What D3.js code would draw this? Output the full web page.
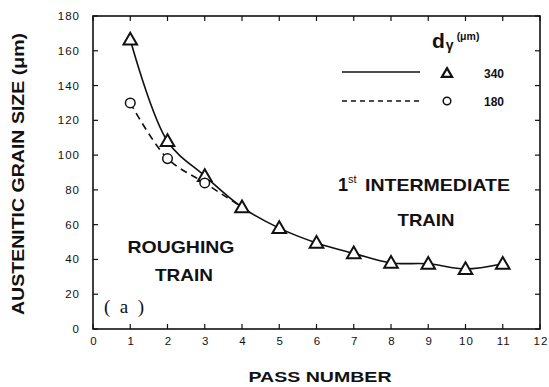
<!DOCTYPE html>
<html lang="en">
<head>
<meta charset="utf-8">
<title>Austenitic grain size</title>
<script src="https://cdn.jsdelivr.net/npm/d3@7"></script>
<style>
  body { margin: 0; background: #fff; }
  text { font-family: "Liberation Sans", Arial, sans-serif; fill: #111; }
</style>
</head>
<body>
<div id="chart"></div>
<script>
// data
var passTri = [1, 2, 3, 4, 5, 6, 7, 8, 9, 10, 11];
var size340 = [166.5, 108, 88, 70, 58, 49.5, 43.5, 38, 37.5, 34.5, 37.5];
var passCirc = [1, 2, 3, 4];
var size180 = [130, 98, 84, 70];
var xTicks = [0, 1, 2, 3, 4, 5, 6, 7, 8, 9, 10, 11, 12];
var yTicks = [0, 20, 40, 60, 80, 100, 120, 140, 160, 180];

var w = 549, h = 387;
var x = d3.scaleLinear().domain([0, 12]).range([93, 540]);
var y = d3.scaleLinear().domain([0, 180]).range([329, 16]);

var svg = d3.select("#chart").append("svg")
  .attr("width", w).attr("height", h);

// frame
svg.append("rect")
  .attr("x", x(0)).attr("y", y(180))
  .attr("width", x(12) - x(0)).attr("height", y(0) - y(180))
  .attr("fill", "none").attr("stroke", "#111").attr("stroke-width", 1.6);

// ticks, inward on every side
var tl = 5;
function tick(cls, data, x1, x2, y1, y2) {
  svg.selectAll("." + cls).data(data).enter().append("line")
    .attr("class", cls)
    .attr("x1", x1).attr("x2", x2).attr("y1", y1).attr("y2", y2)
    .attr("stroke", "#111").attr("stroke-width", 1.2);
}
tick("tyl", yTicks, x(0), x(0) + tl, function(d) { return y(d); }, function(d) { return y(d); });
tick("tyr", yTicks, x(12), x(12) - tl, function(d) { return y(d); }, function(d) { return y(d); });
tick("txb", xTicks, function(d) { return x(d); }, function(d) { return x(d); }, y(0), y(0) - tl);
tick("txt", xTicks, function(d) { return x(d); }, function(d) { return x(d); }, y(180), y(180) + tl);

// tick labels
svg.selectAll(".ly").data(yTicks).enter().append("text")
  .attr("x", 80).attr("y", function(d) { return y(d) + 4; })
  .attr("text-anchor", "end").attr("font-size", 11.5).attr("letter-spacing", 1)
  .text(function(d) { return d; });
svg.selectAll(".lx").data(xTicks).enter().append("text")
  .attr("x", function(d) { return x(d) + 1; }).attr("y", 345)
  .attr("text-anchor", "middle").attr("font-size", 11.5).attr("letter-spacing", 1)
  .text(function(d) { return d; });

// axis titles
svg.append("text")
  .attr("transform", "translate(24,174) rotate(-90)")
  .attr("text-anchor", "middle").attr("font-size", 16).attr("font-weight", "bold")
  .attr("textLength", 282).attr("lengthAdjust", "spacingAndGlyphs")
  .text("AUSTENITIC GRAIN SIZE (\u03bcm)");
svg.append("text")
  .attr("x", 320).attr("y", 382)
  .attr("text-anchor", "middle").attr("font-size", 14).attr("font-weight", "bold")
  .attr("textLength", 143).attr("lengthAdjust", "spacingAndGlyphs")
  .text("PASS NUMBER");

// curves
var line = d3.line().curve(d3.curveCatmullRom.alpha(0.5))
  .x(function(d) { return x(d[0]); }).y(function(d) { return y(d[1]); });
svg.append("path")
  .attr("d", line(d3.zip(passTri, size340)))
  .attr("fill", "none").attr("stroke", "#111").attr("stroke-width", 1.6);
svg.append("path")
  .attr("d", line(d3.zip(passCirc, size180)))
  .attr("fill", "none").attr("stroke", "#111").attr("stroke-width", 1.6)
  .attr("stroke-dasharray", "7,5");

// markers
var tri = d3.symbol().type(d3.symbolTriangle).size(80);
svg.selectAll(".tri").data(d3.zip(passTri, size340)).enter().append("path")
  .attr("d", tri)
  .attr("transform", function(d) { return "translate(" + x(d[0]) + "," + (y(d[1]) + 1) + ")"; })
  .attr("fill", "#fff").attr("stroke", "#111").attr("stroke-width", 2);
svg.selectAll(".circ").data(d3.zip(passCirc, size180).slice(0, 3)).enter().append("circle")
  .attr("cx", function(d) { return x(d[0]); })
  .attr("cy", function(d) { return y(d[1]); })
  .attr("r", 4.8)
  .attr("fill", "#fff").attr("stroke", "#111").attr("stroke-width", 1.5);

// legend
var lg = svg.append("g");
var dt = lg.append("text").attr("x", 432).attr("y", 48).attr("font-weight", "bold");
dt.append("tspan").attr("font-size", 21).text("d");
dt.append("tspan").attr("font-size", 14).attr("dy", 2).attr("dx", 1).text("\u03b3");
dt.append("tspan").attr("font-size", 10.5).attr("dy", -10).attr("dx", 3).text("(\u03bcm)");
lg.append("line").attr("x1", 342).attr("x2", 420).attr("y1", 72).attr("y2", 72)
  .attr("stroke", "#111").attr("stroke-width", 1.6);
lg.append("line").attr("x1", 342).attr("x2", 420).attr("y1", 101).attr("y2", 101)
  .attr("stroke", "#111").attr("stroke-width", 1.6).attr("stroke-dasharray", "5,4");
lg.append("path").attr("d", d3.symbol().type(d3.symbolTriangle).size(45))
  .attr("transform", "translate(447,74)")
  .attr("fill", "#fff").attr("stroke", "#111").attr("stroke-width", 2.2);
lg.append("circle").attr("cx", 447).attr("cy", 101).attr("r", 3.8)
  .attr("fill", "#fff").attr("stroke", "#111").attr("stroke-width", 1.5);
lg.append("text").attr("x", 494).attr("y", 78).attr("text-anchor", "middle")
  .attr("font-size", 12).attr("font-weight", "bold").text("340");
lg.append("text").attr("x", 494).attr("y", 106).attr("text-anchor", "middle")
  .attr("font-size", 12).attr("font-weight", "bold").text("180");

// annotations
var ann = svg.append("text").attr("x", 338).attr("y", 191)
  .attr("font-size", 18).attr("font-weight", "bold");
ann.append("tspan").text("1");
ann.append("tspan").attr("font-size", 11).attr("font-weight", "normal").attr("dy", -8).text("st");
svg.append("text").attr("x", 365).attr("y", 191)
  .attr("font-size", 17).attr("font-weight", "bold")
  .attr("textLength", 145).attr("lengthAdjust", "spacingAndGlyphs")
  .text("INTERMEDIATE");
svg.append("text").attr("x", 426).attr("y", 226).attr("text-anchor", "middle")
  .attr("font-size", 17).attr("font-weight", "bold")
  .attr("textLength", 57).attr("lengthAdjust", "spacingAndGlyphs").text("TRAIN");
svg.append("text").attr("x", 181).attr("y", 253).attr("text-anchor", "middle")
  .attr("font-size", 17).attr("font-weight", "bold")
  .attr("textLength", 107).attr("lengthAdjust", "spacingAndGlyphs").text("ROUGHING");
svg.append("text").attr("x", 184).attr("y", 281).attr("text-anchor", "middle")
  .attr("font-size", 17).attr("font-weight", "bold")
  .attr("textLength", 58).attr("lengthAdjust", "spacingAndGlyphs").text("TRAIN");
svg.append("text").attr("x", 104).attr("y", 313)
  .style("font-family", "'Liberation Serif', 'DejaVu Serif', serif")
  .attr("font-size", 19).attr("textLength", 40).attr("lengthAdjust", "spacing").text("(a)");
</script>
</body>
</html>
